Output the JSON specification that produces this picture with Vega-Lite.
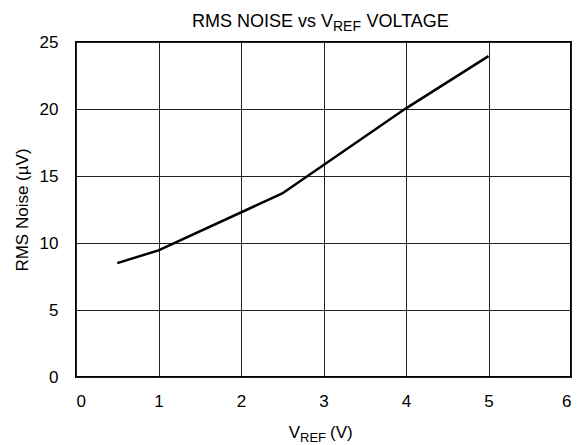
{
  "$schema": "https://vega.github.io/schema/vega-lite/v6.json",
  "width": 495,
  "height": 335,
  "autosize": {"type": "none"},
  "padding": {"left": 76, "top": 42, "right": 8, "bottom": 68},
  "background": "white",
  "config": {
    "font": "Liberation Sans",
    "view": {"stroke": "black", "strokeWidth": 2},
    "axis": {
      "domain": false,
      "ticks": false,
      "grid": true,
      "gridColor": "#222222",
      "gridWidth": 1,
      "gridOpacity": 1,
      "labelFont": "Liberation Sans",
      "labelFontSize": 17,
      "labelColor": "black",
      "titleFont": "Liberation Sans",
      "titleFontSize": 17,
      "titleFontWeight": "normal",
      "titleColor": "black"
    }
  },
  "layer": [
    {
      "data": {
        "values": [
          {"vref": 0.5, "noise": 8.5},
          {"vref": 1.0, "noise": 9.45},
          {"vref": 2.5, "noise": 13.7},
          {"vref": 4.0, "noise": 20.05},
          {"vref": 5.0, "noise": 23.95}
        ]
      },
      "mark": {"type": "line", "color": "black", "strokeWidth": 2.5},
      "encoding": {
        "x": {
          "field": "vref",
          "type": "quantitative",
          "scale": {"domain": [0, 6], "nice": false, "zero": false},
          "axis": {"values": [0, 1, 2, 3, 4, 5, 6], "title": null, "labelPadding": 16, "format": "d"}
        },
        "y": {
          "field": "noise",
          "type": "quantitative",
          "scale": {"domain": [0, 25], "nice": false},
          "axis": {"values": [0, 5, 10, 15, 20, 25], "title": "RMS Noise (µV)", "labelPadding": 18, "titlePadding": 8, "format": "d"}
        }
      }
    },
    {
      "data": {"values": [{"t": "RMS NOISE vs V"}]},
      "mark": {"type": "text", "align": "right", "baseline": "alphabetic", "fontSize": 18, "dx": 9.5, "dy": -15, "color": "black"},
      "encoding": {"x": {"datum": 3}, "y": {"datum": 25}, "text": {"field": "t"}}
    },
    {
      "data": {"values": [{"t": "REF"}]},
      "mark": {"type": "text", "align": "left", "baseline": "alphabetic", "fontSize": 14, "dx": 9.5, "dy": -11, "color": "black"},
      "encoding": {"x": {"datum": 3}, "y": {"datum": 25}, "text": {"field": "t"}}
    },
    {
      "data": {"values": [{"t": "VOLTAGE"}]},
      "mark": {"type": "text", "align": "left", "baseline": "alphabetic", "fontSize": 18, "dx": 43, "dy": -15, "color": "black"},
      "encoding": {"x": {"datum": 3}, "y": {"datum": 25}, "text": {"field": "t"}}
    },
    {
      "data": {"values": [{"t": "V"}]},
      "mark": {"type": "text", "align": "right", "baseline": "alphabetic", "fontSize": 17, "dx": -23.5, "dy": 61, "color": "black"},
      "encoding": {"x": {"datum": 3}, "y": {"datum": 0}, "text": {"field": "t"}}
    },
    {
      "data": {"values": [{"t": "REF"}]},
      "mark": {"type": "text", "align": "left", "baseline": "alphabetic", "fontSize": 13, "dx": -23.5, "dy": 64.5, "color": "black"},
      "encoding": {"x": {"datum": 3}, "y": {"datum": 0}, "text": {"field": "t"}}
    },
    {
      "data": {"values": [{"t": "(V)"}]},
      "mark": {"type": "text", "align": "left", "baseline": "alphabetic", "fontSize": 17, "dx": 6.5, "dy": 61, "color": "black"},
      "encoding": {"x": {"datum": 3}, "y": {"datum": 0}, "text": {"field": "t"}}
    }
  ]
}
